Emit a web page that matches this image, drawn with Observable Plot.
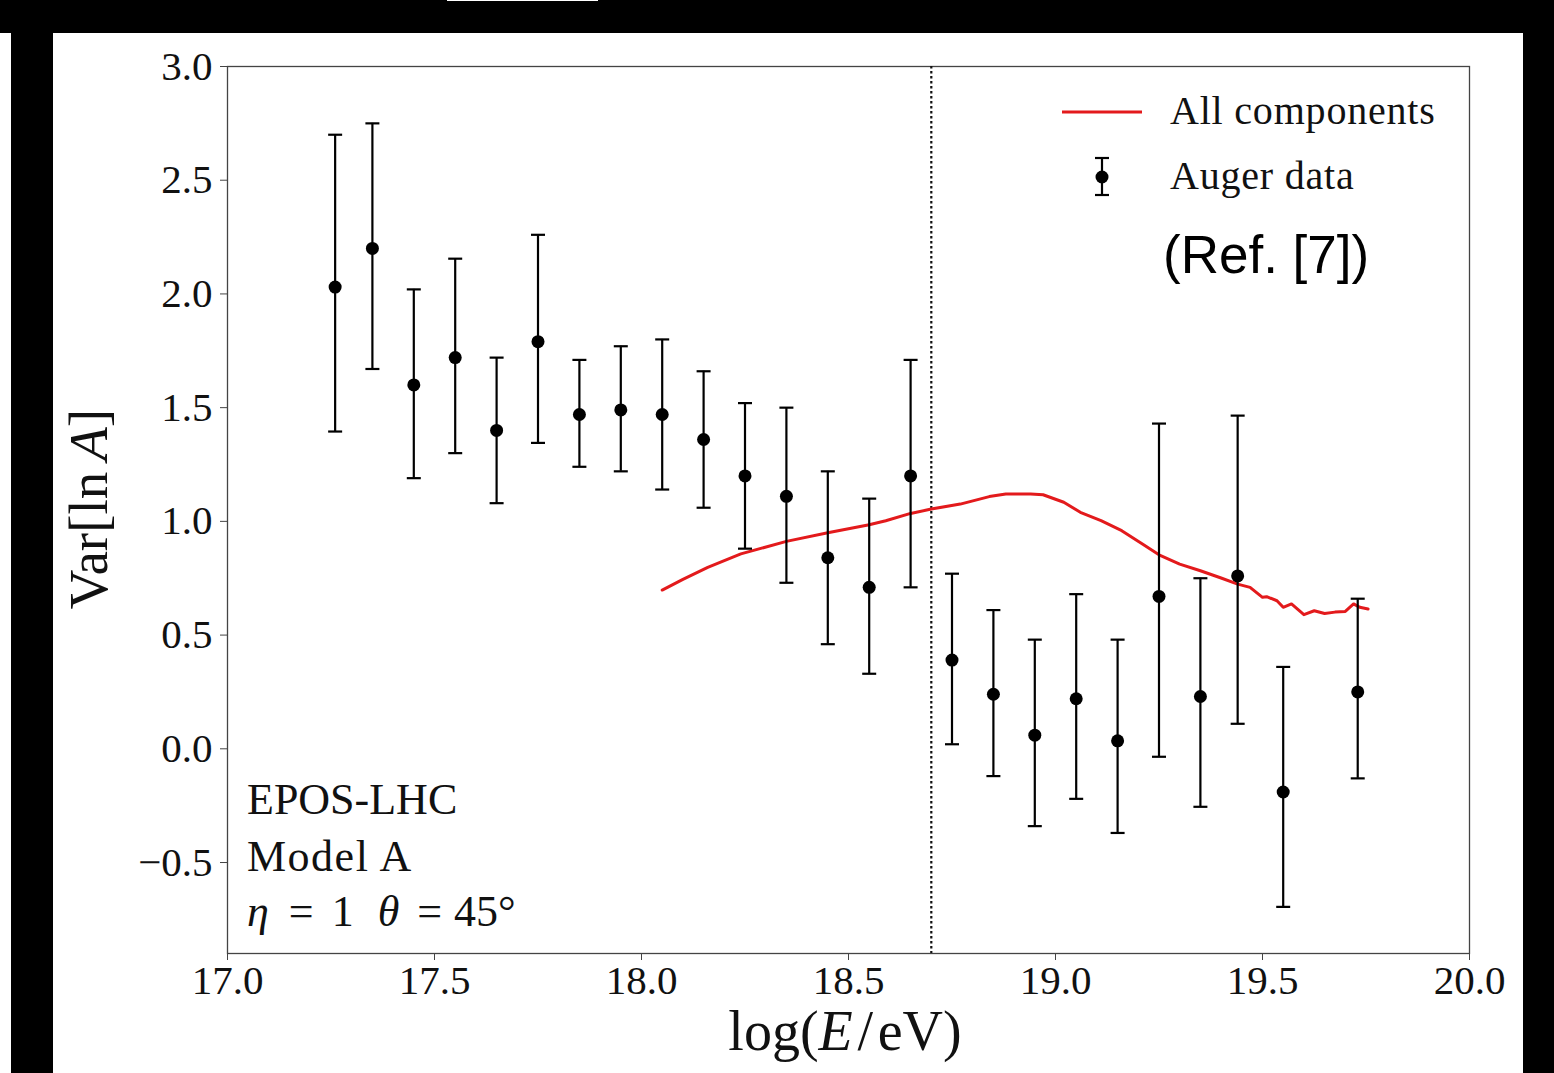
<!DOCTYPE html>
<html>
<head>
<meta charset="utf-8">
<script src="https://cdn.jsdelivr.net/npm/d3@7"></script>
<script src="https://cdn.jsdelivr.net/npm/@observablehq/plot@0.6"></script>
<style>
  body { margin: 0; background: #fff; }
  #wrap { position: relative; width: 1554px; height: 1073px; background: #fff; overflow: hidden; }
  #chart { position: absolute; left: 0; top: 0; }
  .ov { position: absolute; white-space: nowrap; color: #111; line-height: 1; }
  .serif { font-family: "Liberation Serif", "DejaVu Serif", serif; }
  .blk { position: absolute; background: #000; }
</style>
</head>
<body>
<div id="wrap">
  <div id="chart"></div>
</div>
<script>
// ---- data ----
const energy = [17.26,17.35,17.45,17.55,17.65,17.75,17.85,17.95,18.05,18.15,18.25,18.35,18.45,18.55,18.65,18.75,18.85,18.95,19.05,19.15,19.25,19.35,19.44,19.55,19.73];
const varLnA = [2.03,2.20,1.60,1.72,1.40,1.79,1.47,1.49,1.47,1.36,1.20,1.11,0.84,0.71,1.20,0.39,0.24,0.06,0.22,0.035,0.67,0.23,0.76,-0.19,0.25];
const upper  = [2.70,2.75,2.02,2.155,1.72,2.26,1.71,1.77,1.80,1.66,1.52,1.50,1.22,1.10,1.71,0.77,0.61,0.48,0.68,0.48,1.43,0.75,1.465,0.36,0.66];
const lower  = [1.395,1.67,1.19,1.30,1.08,1.345,1.24,1.22,1.14,1.06,0.88,0.73,0.46,0.33,0.71,0.02,-0.12,-0.34,-0.22,-0.37,-0.035,-0.255,0.11,-0.695,-0.13];

const modelE = [18.05,18.10,18.16,18.24,18.35,18.45,18.55,18.59,18.65,18.70,18.77,18.84,18.88,18.94,18.97,19.02,19.06,19.11,19.16,19.21,19.25,19.30,19.35,19.40,19.44,19.47,19.50,19.51,19.535,19.55,19.57,19.60,19.625,19.65,19.675,19.70,19.72,19.735,19.755];
const modelV = [0.698,0.745,0.798,0.857,0.912,0.950,0.985,1.003,1.035,1.054,1.076,1.109,1.120,1.120,1.117,1.084,1.040,1.003,0.959,0.900,0.853,0.812,0.783,0.751,0.724,0.710,0.666,0.669,0.651,0.622,0.637,0.590,0.607,0.595,0.601,0.604,0.637,0.622,0.615];

const xTicks = [17.0,17.5,18.0,18.5,19.0,19.5,20.0];
const yTicks = [-0.5,0.0,0.5,1.0,1.5,2.0,2.5,3.0];
const cutE = [18.7];

const auger = energy.map((e,i) => ({e, v: varLnA[i], lo: lower[i], hi: upper[i]}));
const model = modelE.map((e,i) => ({e, v: modelV[i]}));

// horizontal cap symbol
const capSymbol = {
  draw(ctx, size) {
    const w = Math.sqrt(size / Math.PI);
    ctx.moveTo(-w, 0); ctx.lineTo(w, 0);
  }
};

const fmt = d3.format(".1f");
const red = "#e31a1c";

const chart = Plot.plot({
  width: 1554,
  height: 1073,
  marginLeft: 227,
  marginRight: 85,
  marginTop: 66,
  marginBottom: 120,
  style: {fontFamily: "Liberation Serif, serif", fontSize: "40px", color: "#111", background: "transparent"},
  x: {domain: [17, 20]},
  y: {domain: [-0.9, 3.0]},
  marks: [
    Plot.frame({stroke: "#444", strokeWidth: 1.3}),
    Plot.axisX({ticks: xTicks, tickFormat: fmt, tickSize: 7, tickPadding: 4, fontSize: 41, label: null, stroke: "#444"}),
    Plot.axisY({ticks: yTicks, tickFormat: fmt, tickSize: 7, tickPadding: 8, fontSize: 41, label: null, stroke: "#444"}),
    Plot.ruleX(cutE, {stroke: "#111", strokeWidth: 2.2, strokeDasharray: "2.5,2.5"}),
    Plot.line(model, {x: "e", y: "v", stroke: red, strokeWidth: 3}),
    Plot.ruleX(auger, {x: "e", y1: "lo", y2: "hi", stroke: "#000", strokeWidth: 2.2}),
    Plot.dot(auger, {x: "e", y: "hi", symbol: capSymbol, r: 7, stroke: "#000", strokeWidth: 2.2}),
    Plot.dot(auger, {x: "e", y: "lo", symbol: capSymbol, r: 7, stroke: "#000", strokeWidth: 2.2}),
    Plot.dot(auger, {x: "e", y: "v", r: 6.5, fill: "#000", stroke: "none"})
  ]
});
document.getElementById("chart").appendChild(chart);

const wrap = document.getElementById("wrap");
function ov(html, style, cls) {
  const d = document.createElement("div");
  d.className = "ov " + (cls || "");
  d.innerHTML = html;
  Object.assign(d.style, style);
  wrap.appendChild(d);
  return d;
}

// axis labels
ov('log(<i>E</i>&#8202;/&#8202;eV)', {left: "845px", top: "1003px", fontSize: "56px", transform: "translateX(-50%)"}, "serif");
ov('Var[ln&#8201;<i>A</i>]', {left: "88px", top: "509px", fontSize: "55px", transform: "translate(-50%,-50%) rotate(-90deg)"}, "serif");

// annotation
ov('EPOS-LHC', {left: "247px", top: "778px", fontSize: "44px"}, "serif");
ov('Model A', {left: "247px", top: "835px", fontSize: "44px", letterSpacing: "1.5px"}, "serif");
ov('<i>η</i><span style="padding:0 18px 0 20px">=</span>1<span style="padding-left:24px"><i>θ</i></span><span style="padding:0 12px 0 18px">=</span>45°',
   {left: "247px", top: "890px", fontSize: "44px"}, "serif");

// legend
const leg = document.createElementNS("http://www.w3.org/2000/svg", "svg");
leg.setAttribute("width", "120"); leg.setAttribute("height", "120");
Object.assign(leg.style, {position: "absolute", left: "1050px", top: "90px"});
leg.innerHTML = `
  <line x1="12" x2="92" y1="22" y2="22" stroke="${red}" stroke-width="3"/>
  <line x1="52" x2="52" y1="68" y2="105" stroke="#000" stroke-width="2.2"/>
  <line x1="45" x2="59" y1="68" y2="68" stroke="#000" stroke-width="2.2"/>
  <line x1="45" x2="59" y1="105" y2="105" stroke="#000" stroke-width="2.2"/>
  <circle cx="52" cy="87" r="6.5" fill="#000"/>`;
wrap.appendChild(leg);
ov('All components', {left: "1170px", top: "91px", fontSize: "40px", letterSpacing: "0.8px"}, "serif");
ov('Auger data', {left: "1170px", top: "156px", fontSize: "40px", letterSpacing: "0.8px"}, "serif");
ov('(Ref. [7])', {left: "1163px", top: "228px", fontSize: "53px", fontFamily: "Liberation Sans, Arial, sans-serif", color: "#000"});

// black borders from the reference crop
[[0,0,447,33],[447,1,153,32],[598,0,956,33],[11,0,42,1073],[1523,0,31,1073]].forEach(([l,t,w,h]) => {
  const b = document.createElement("div");
  b.className = "blk";
  Object.assign(b.style, {left: l+"px", top: t+"px", width: w+"px", height: h+"px"});
  wrap.appendChild(b);
});
</script>
</body>
</html>
